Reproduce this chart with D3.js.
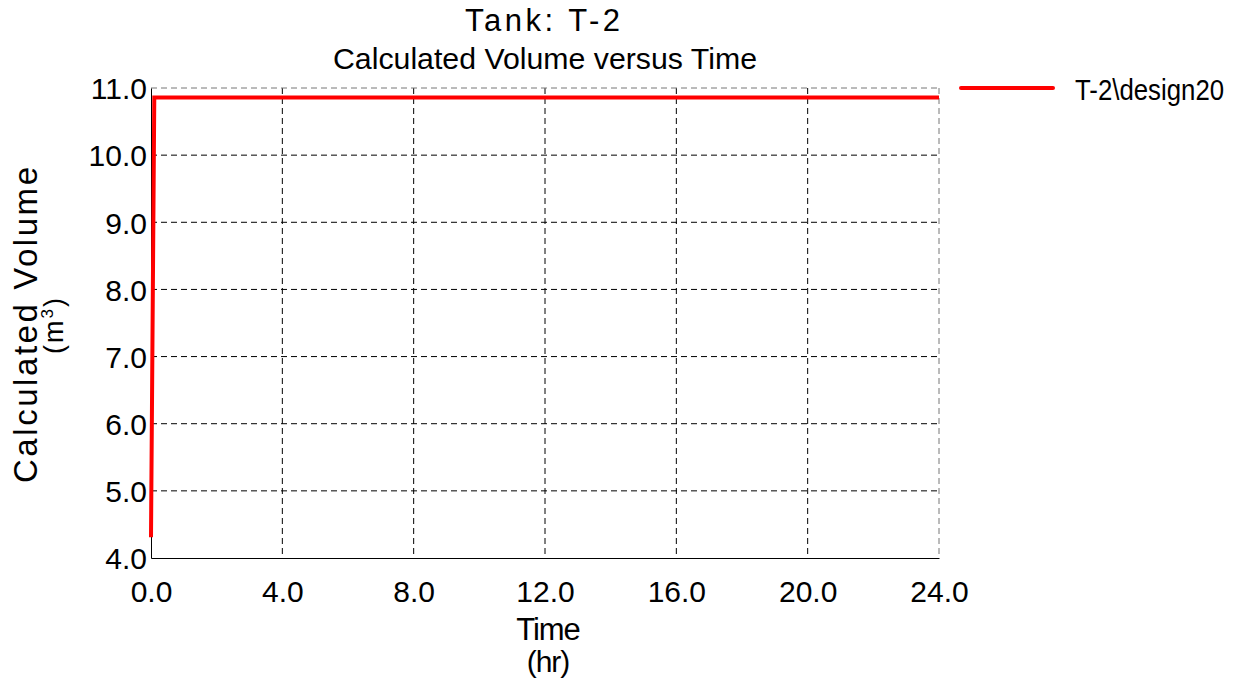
<!DOCTYPE html>
<html>
<head>
<meta charset="utf-8">
<script src="https://cdn.jsdelivr.net/npm/d3@7"></script>
<style>
  body { margin: 0; background: #fff; }
  text { font-family: 'Liberation Sans', Arial, sans-serif; fill: #000; }
</style>
</head>
<body>
<div id="chart"></div>
<script>
// data
const timeHr = [0.0, 0.1, 24.0]
const volumeM3 = [4.31, 10.86, 10.86]
const xTicks = [0, 4, 8, 12, 16, 20, 24]
const yTicks = [4, 5, 6, 7, 8, 9, 10, 11]
const seriesName = 'T-2\\design20'

const width = 1241
const height = 686
const margin = { top: 88, left: 151, right: 302, bottom: 128 }
const innerW = width - margin.left - margin.right
const innerH = height - margin.top - margin.bottom
const font = "'Liberation Sans', Arial, sans-serif"

const svg = d3
  .select('#chart')
  .append('svg')
  .attr('width', width)
  .attr('height', height)

const g = svg
  .append('g')
  .attr('transform', 'translate(' + margin.left + ',' + margin.top + ')')

const x = d3.scaleLinear().domain([0, 24]).range([0, innerW])
const y = d3.scaleLinear().domain([4, 11]).range([innerH, 0])

// grid
g.selectAll('.vgrid')
  .data(xTicks.filter(d => d > 0))
  .enter()
  .append('line')
  .attr('x1', d => x(d))
  .attr('x2', d => x(d))
  .attr('y1', 0)
  .attr('y2', innerH)
  .attr('stroke', d => (d === 24 ? '#777' : '#000'))
  .attr('stroke-width', 1)
  .attr('stroke-dasharray', '6,4')

g.selectAll('.hgrid')
  .data(yTicks.filter(d => d > 4))
  .enter()
  .append('line')
  .attr('x1', 0)
  .attr('x2', innerW)
  .attr('y1', d => y(d))
  .attr('y2', d => y(d))
  .attr('stroke', d => (d === 11 ? '#777' : '#000'))
  .attr('stroke-width', 1)
  .attr('stroke-dasharray', '6,4')

// axes
const xAxis = d3.axisBottom(x).tickValues(xTicks).tickSize(0).tickPadding(0).tickFormat(d3.format('.1f'))
const yAxis = d3.axisLeft(y).tickValues(yTicks).tickSize(0).tickPadding(0).tickFormat(d3.format('.1f'))

const gx = g.append('g').attr('transform', 'translate(0,' + innerH + ')').call(xAxis)
gx.select('.domain').attr('stroke', '#000').attr('stroke-width', 1)
gx.selectAll('text')
  .attr('y', 44)
  .attr('dy', 0)
  .style('font-size', '30px')
  .style('font-family', font)

const gy = g.append('g').call(yAxis)
gy.select('.domain').attr('stroke', '#000').attr('stroke-width', 1)
gy.selectAll('text')
  .attr('x', -4)
  .attr('dy', '0.36em')
  .style('font-size', '30px')
  .style('font-family', font)

// series
const pts = timeHr.map((t, i) => [t, volumeM3[i]])
const line = d3.line().x(d => x(d[0])).y(d => y(d[1]))

g.append('path')
  .datum(pts)
  .attr('d', line)
  .attr('fill', 'none')
  .attr('stroke', '#ff0000')
  .attr('stroke-width', 4)
  .attr('stroke-linejoin', 'miter')

// titles
svg.append('text')
  .attr('x', 465)
  .attr('y', 31)
  .style('font-size', '31px')
  .attr('textLength', 155)
  .attr('lengthAdjust', 'spacing')
  .text('Tank: T-2')

svg.append('text')
  .attr('x', 333)
  .attr('y', 69)
  .style('font-size', '30px')
  .attr('textLength', 424)
  .attr('lengthAdjust', 'spacingAndGlyphs')
  .text('Calculated Volume versus Time')

// axis labels
svg.append('text')
  .attr('x', 548)
  .attr('y', 640)
  .attr('text-anchor', 'middle')
  .style('font-size', '31px')
  .style('letter-spacing', '-1px')
  .text('Time')

svg.append('text')
  .attr('x', 548)
  .attr('y', 672)
  .attr('text-anchor', 'middle')
  .style('font-size', '30px')
  .style('letter-spacing', '-1px')
  .text('(hr)')

svg.append('text')
  .attr('transform', 'translate(37,483) rotate(-90)')
  .style('font-size', '33px')
  .attr('textLength', 316)
  .attr('lengthAdjust', 'spacing')
  .text('Calculated Volume')

const unit = svg.append('text')
  .attr('transform', 'translate(63,325) rotate(-90)')
  .attr('text-anchor', 'middle')
  .style('font-size', '27px')
  .style('letter-spacing', '2px')
unit.append('tspan').text('(m')
unit.append('tspan').attr('dy', -10).style('font-size', '17px').text('3')
unit.append('tspan').attr('dy', 10).text(')')

// legend
svg.append('line')
  .attr('x1', 961)
  .attr('x2', 1053)
  .attr('y1', 88)
  .attr('y2', 88)
  .attr('stroke', '#ff0000')
  .attr('stroke-width', 4)
  .attr('stroke-linecap', 'round')

svg.append('text')
  .attr('transform', 'translate(1075,100) scale(0.86,1)')
  .style('font-size', '30px')
  .text(seriesName)
</script>
</body>
</html>
